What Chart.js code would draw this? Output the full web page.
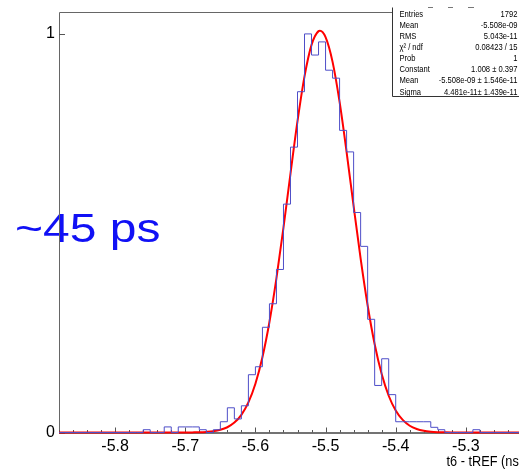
<!DOCTYPE html>
<html><head><meta charset="utf-8">
<script src="https://cdn.jsdelivr.net/npm/chart.js@4/dist/chart.umd.min.js"></script>
<style>
html,body{margin:0;padding:0;overflow:hidden;background:#fff;width:519px;height:469px}
#wrap{position:absolute;left:0;top:0;width:540px;height:469px}
</style>
</head><body><div id="wrap"><canvas id="c" width="540" height="469"></canvas></div>
<script>
// ---- data ----
const binLowEdges = [-5.77,-5.76,-5.75,-5.74,-5.73,-5.72,-5.71,-5.70,-5.69,-5.68,-5.67,-5.66,-5.65,-5.64,-5.63,-5.62,-5.61,-5.60,-5.59,-5.58,-5.57,-5.56,-5.55,-5.54,-5.53,-5.52,-5.51,-5.50,-5.49,-5.48,-5.47,-5.46,-5.45,-5.44,-5.43,-5.42,-5.41,-5.40,-5.39,-5.38,-5.37,-5.36,-5.35,-5.34,-5.33,-5.32,-5.31,-5.30,-5.29,-5.28];
const binHeights  = [0,0.007,0,0,0.014,0,0.014,0.014,0.014,0.007,0,0.007,0.027,0.062,0.034,0.067,0.145,0.165,0.264,0.323,0.409,0.573,0.716,0.855,1.0,0.947,0.98,0.909,0.889,0.758,0.704,0.552,0.467,0.284,0.118,0.185,0.095,0.027,0.027,0.027,0.027,0.027,0.013,0.007,0,0,0,0,0.007,0];
const fitX = [-5.88,-5.72,-5.70,-5.69,-5.68,-5.67,-5.66,-5.65,-5.64,-5.63,-5.62,-5.61,-5.60,-5.59,-5.58,-5.57,-5.56,-5.55,-5.54,-5.53,-5.52,-5.51,-5.508,-5.50,-5.49,-5.48,-5.47,-5.46,-5.45,-5.44,-5.43,-5.42,-5.41,-5.40,-5.39,-5.38,-5.37,-5.36,-5.35,-5.34,-5.33,-5.32,-5.30,-5.20];
const fitY = [0,0,0.0001,0.0003,0.0006,0.0015,0.0032,0.0067,0.0132,0.0248,0.0443,0.0756,0.1225,0.1889,0.2772,0.3871,0.5141,0.6497,0.7811,0.8936,0.9725,1.0070,1.0080,0.9921,0.9299,0.8293,0.7036,0.5679,0.4362,0.3187,0.2216,0.1466,0.0922,0.0552,0.0315,0.0170,0.0088,0.0043,0.0020,0.0009,0.0004,0.0001,0,0];
const xRange = [-5.88, -5.20];
const yRange = [0, 1.055];
const xTickStep = 0.02;
const xLabelTicks = [-5.8,-5.7,-5.6,-5.5,-5.4,-5.3];
const yTickValues = [0, 1];
const xTitle = 't6 - tREF (ns)';
const statLabels = ['Entries','Mean','RMS','\u03C7\u00B2 / ndf','Prob','Constant','Mean','Sigma'];
const statValues = ['1792','-5.508e-09','5.043e-11','0.08423 / 15','1','1.008 \u00B1 0.397','-5.508e-09 \u00B1 1.546e-11','4.481e-11\u00B1 1.439e-11'];
const annotationText = '~45 ps';

// ---- build datasets ----
const histPoints = [{x: xRange[0], y: 0}]
  .concat(binLowEdges.map((x, i) => ({x: x, y: binHeights[i]})))
  .concat([{x: xRange[1], y: 0}]);
const fitPoints = fitX.map((x, i) => ({x: x, y: fitY[i]}));

const FONT = '"Liberation Sans", Arial, Helvetica, sans-serif';
Chart.defaults.font.family = FONT;

function isMajor(v) { return xLabelTicks.some(t => Math.abs(t - v) < 1e-6); }

const decor = {
  id: 'decor',
  beforeDatasetsDraw(chart) {
    const ctx = chart.ctx, a = chart.chartArea;
    const xs = chart.scales.x, ys = chart.scales.y;
    ctx.save();
    // annotation text
    ctx.fillStyle = '#1010f5';
    ctx.font = '40px ' + FONT;
    ctx.textBaseline = 'alphabetic';
    ctx.textAlign = 'left';
    ctx.translate(15, 242);
    ctx.scale(1.2, 1);
    ctx.fillText(annotationText, 0, 0);
    ctx.restore();

    ctx.save();
    ctx.strokeStyle = '#666';
    ctx.lineWidth = 1;
    // frame left & top
    ctx.beginPath();
    ctx.moveTo(a.left + 0.5, a.bottom);
    ctx.lineTo(a.left + 0.5, a.top + 0.5);
    ctx.lineTo(a.right, a.top + 0.5);
    ctx.stroke();
    // x axis line
    ctx.strokeStyle = '#444';
    ctx.lineWidth = 1.5;
    ctx.beginPath();
    ctx.moveTo(a.left, a.bottom + 0.5);
    ctx.lineTo(a.right, a.bottom + 0.5);
    ctx.stroke();
    // x ticks (inside)
    ctx.lineWidth = 1;
    ctx.strokeStyle = '#555';
    xs.ticks.forEach(t => {
      const px = Math.round(xs.getPixelForValue(t.value)) + 0.5;
      const len = isMajor(t.value) ? 5 : 2.5;
      ctx.beginPath();
      ctx.moveTo(px, a.bottom);
      ctx.lineTo(px, a.bottom - len);
      ctx.stroke();
    });
    // y ticks (inside)
    yTickValues.forEach(v => {
      const py = Math.round(ys.getPixelForValue(v)) + 0.5;
      ctx.beginPath();
      ctx.moveTo(a.left, py);
      ctx.lineTo(a.left + 6, py);
      ctx.stroke();
    });
    ctx.restore();
  },
  afterDraw(chart) {
    const ctx = chart.ctx;
    // x axis title (right part runs off the visible area, as in the reference)
    ctx.save();
    ctx.fillStyle = '#000';
    ctx.font = '15px ' + FONT;
    ctx.textBaseline = 'middle';
    ctx.textAlign = 'left';
    ctx.translate(446.5, 461.5);
    ctx.scale(0.85, 1);
    ctx.fillText(xTitle, 0, 0);
    ctx.restore();

    const bx = 392.5, by = 7.5, bw = 170, bh = 89;
    ctx.save();
    ctx.fillStyle = '#fff';
    ctx.fillRect(bx, by, bw, bh);
    ctx.strokeStyle = '#333';
    ctx.lineWidth = 1;
    ctx.beginPath();
    ctx.moveTo(bx, by);
    ctx.lineTo(bx, by + bh);
    ctx.lineTo(bx + bw, by + bh);
    ctx.stroke();
    // faint top edge marks
    ctx.strokeStyle = '#777';
    [[428, 433], [448, 453], [468, 474]].forEach(s => {
      ctx.beginPath(); ctx.moveTo(s[0], by); ctx.lineTo(s[1], by); ctx.stroke();
    });
    ctx.fillStyle = '#000';
    ctx.font = '9.5px ' + FONT;
    ctx.textBaseline = 'middle';
    const rowH = bh / statLabels.length;
    statLabels.forEach((lab, i) => {
      const cy = by + (i + 0.5) * rowH + 1;
      ctx.save();
      ctx.translate(bx + 7, cy);
      ctx.scale(0.8, 1);
      ctx.textAlign = 'left';
      ctx.fillText(lab, 0, 0);
      ctx.restore();
      ctx.save();
      ctx.translate(517.5, cy);
      ctx.scale(0.8, 1);
      ctx.textAlign = 'right';
      ctx.fillText(statValues[i], 0, 0);
      ctx.restore();
    });
    ctx.restore();
  }
};

new Chart(document.getElementById('c'), {
  type: 'line',
  data: {
    datasets: [
      {
        label: 'hist',
        data: histPoints,
        stepped: 'before',
        borderColor: 'rgb(78,78,200)',
        borderWidth: 1,
        pointRadius: 0,
        fill: false,
        clip: false
      },
      {
        label: 'gaus fit',
        data: fitPoints,
        borderColor: '#ff0000',
        borderWidth: 2,
        pointRadius: 0,
        cubicInterpolationMode: 'monotone',
        fill: false,
        clip: false
      }
    ]
  },
  options: {
    responsive: false,
    devicePixelRatio: 1,
    animation: false,
    events: [],
    layout: { padding: { top: 10, right: 2.6, bottom: 0, left: 0 } },
    plugins: { legend: { display: false }, tooltip: { enabled: false }, title: { display: false } },
    scales: {
      x: {
        type: 'linear',
        min: xRange[0],
        max: xRange[1],
        grid: { display: false, drawTicks: false },
        border: { display: false },
        ticks: {
          stepSize: xTickStep,
          autoSkip: false,
          maxRotation: 0,
          padding: 4,
          color: '#000',
          font: { size: 16, lineHeight: 1.2 },
          callback: (v) => isMajor(v) ? Number(v).toFixed(1) : ''
        },
        title: { display: false },
        afterFit: (s) => { s.height = 36.5; }
      },
      y: {
        type: 'linear',
        min: yRange[0],
        max: yRange[1],
        grid: { display: false, drawTicks: false },
        border: { display: false },
        afterBuildTicks: (s) => { s.ticks = yTickValues.map(v => ({ value: v })); },
        ticks: {
          padding: 4,
          color: '#000',
          font: { size: 16, lineHeight: 1 },
          callback: (v) => String(v)
        },
        afterFit: (s) => { s.width = 59; }
      }
    }
  },
  plugins: [decor]
});
</script>
</body></html>
